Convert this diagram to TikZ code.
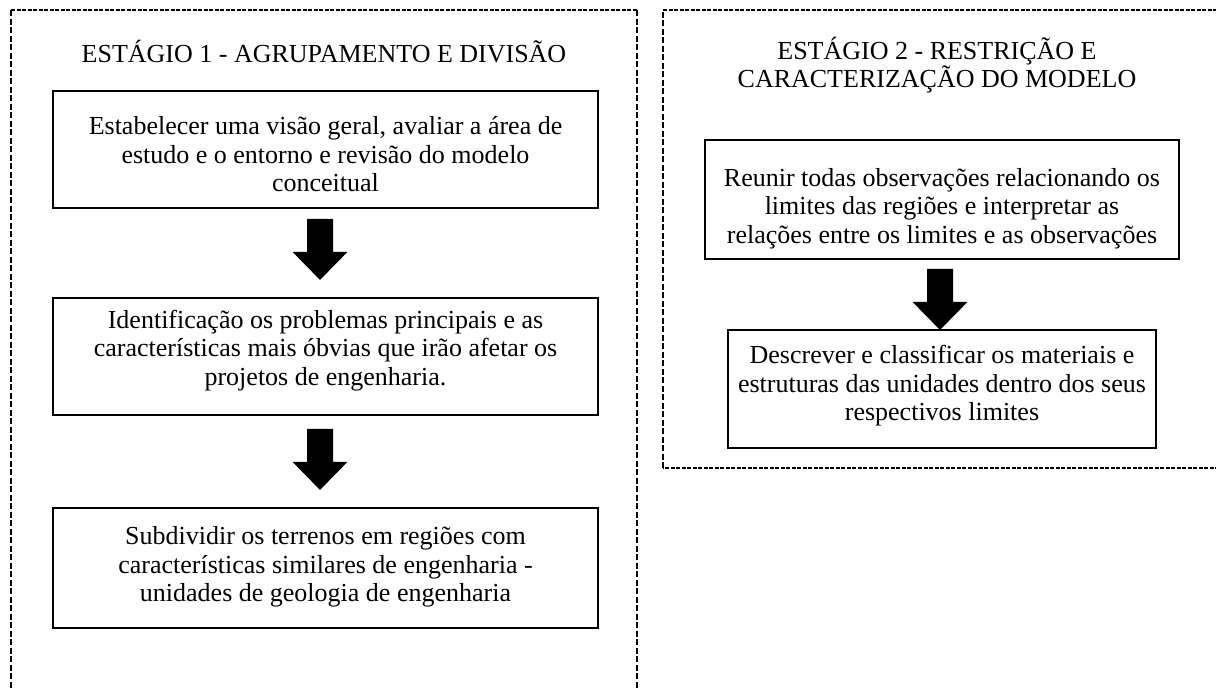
\documentclass[tikz,border=0pt]{standalone}
\usepackage{fontspec}
\setmainfont{Liberation Serif}
\begin{document}
\begin{tikzpicture}[x=1pt,y=-1pt,
  vframe/.style={line width=2pt,dash pattern=on 6pt off 2.5pt},
  hframe/.style={line width=1.2pt,dash pattern=on 4pt off 1.5pt},
  stepbox/.style={draw,line width=1.8pt,rectangle,inner sep=0pt},
  boxtext/.style={align=center,inner sep=0pt,font=\fontsize{26}{28.5}\selectfont},
  title/.style={align=center,font=\fontsize{26}{27}\selectfont},
  blockarrow/.pic={\fill (-13,0) -- (13,0) -- (13,33) -- (27.5,33) -- (0,61) -- (-27.5,33) -- (-13,33) -- cycle;}]
\useasboundingbox (0,0) rectangle (1216,688);
% frames
\coordinate (f1a) at (11,700);
\coordinate (f1b) at (11,10);
\coordinate (f1c) at (637,10);
\coordinate (f1d) at (637,700);
\draw[vframe] (f1b) -- (f1a);
\draw[hframe] (f1b) -- (f1c);
\draw[vframe] (f1c) -- (f1d);
\coordinate (f2a) at (1230,468);
\coordinate (f2b) at (663,468);
\coordinate (f2c) at (663,10);
\coordinate (f2d) at (1230,10);
\draw[hframe] (f2a) -- (f2b);
\draw[vframe] (f2b) -- (f2c);
\draw[hframe] (f2c) -- (f2d);
% stage 1
\node[title] (t1) at (324,52) {ESTÁGIO 1 - AGRUPAMENTO E DIVISÃO};
\node[stepbox,minimum width=545,minimum height=117] (b1) at (325.5,149.5) {};
\node[boxtext,yshift=-5pt] (b1t) at (b1.center)
  {Estabelecer uma visão geral, avaliar a área de\\estudo e o entorno e revisão do modelo\\conceitual};
\node[stepbox,minimum width=545,minimum height=117] (b2) at (325.5,356.5) {};
\node[boxtext,yshift=6pt] (b2t) at (b2.center)
  {Identificação os problemas principais e as\\características mais óbvias que irão afetar os\\projetos de engenharia.};
\node[stepbox,minimum width=545,minimum height=120] (b3) at (325.5,568) {};
\node[boxtext,yshift=1pt] (b3t) at (b3.center)
  {Subdividir os terrenos em regiões com\\características similares de engenharia -\\unidades de geologia de engenharia};
\path (b1.south) ++(-5.5,10) pic {blockarrow};
\path (b2.south) ++(-5.5,13) pic {blockarrow};
% stage 2
\node[title] (t2) at (937,65) {ESTÁGIO 2 - RESTRIÇÃO E\\CARACTERIZAÇÃO DO MODELO};
\node[stepbox,minimum width=474,minimum height=119] (b4) at (942,199.5) {};
\node[boxtext,yshift=-9pt] (b4t) at (b4.center)
  {Reunir todas observações relacionando os\\limites das regiões e interpretar as\\relações entre os limites e as observações};
\node[stepbox,minimum width=428,minimum height=118] (b5) at (942,389) {};
\node[boxtext,yshift=3pt] (b5t) at (b5.center)
  {Descrever e classificar os materiais e\\estruturas das unidades dentro dos seus\\respectivos limites};
\path (b4.south) ++(-2,9) pic {blockarrow};
\end{tikzpicture}
\end{document}
